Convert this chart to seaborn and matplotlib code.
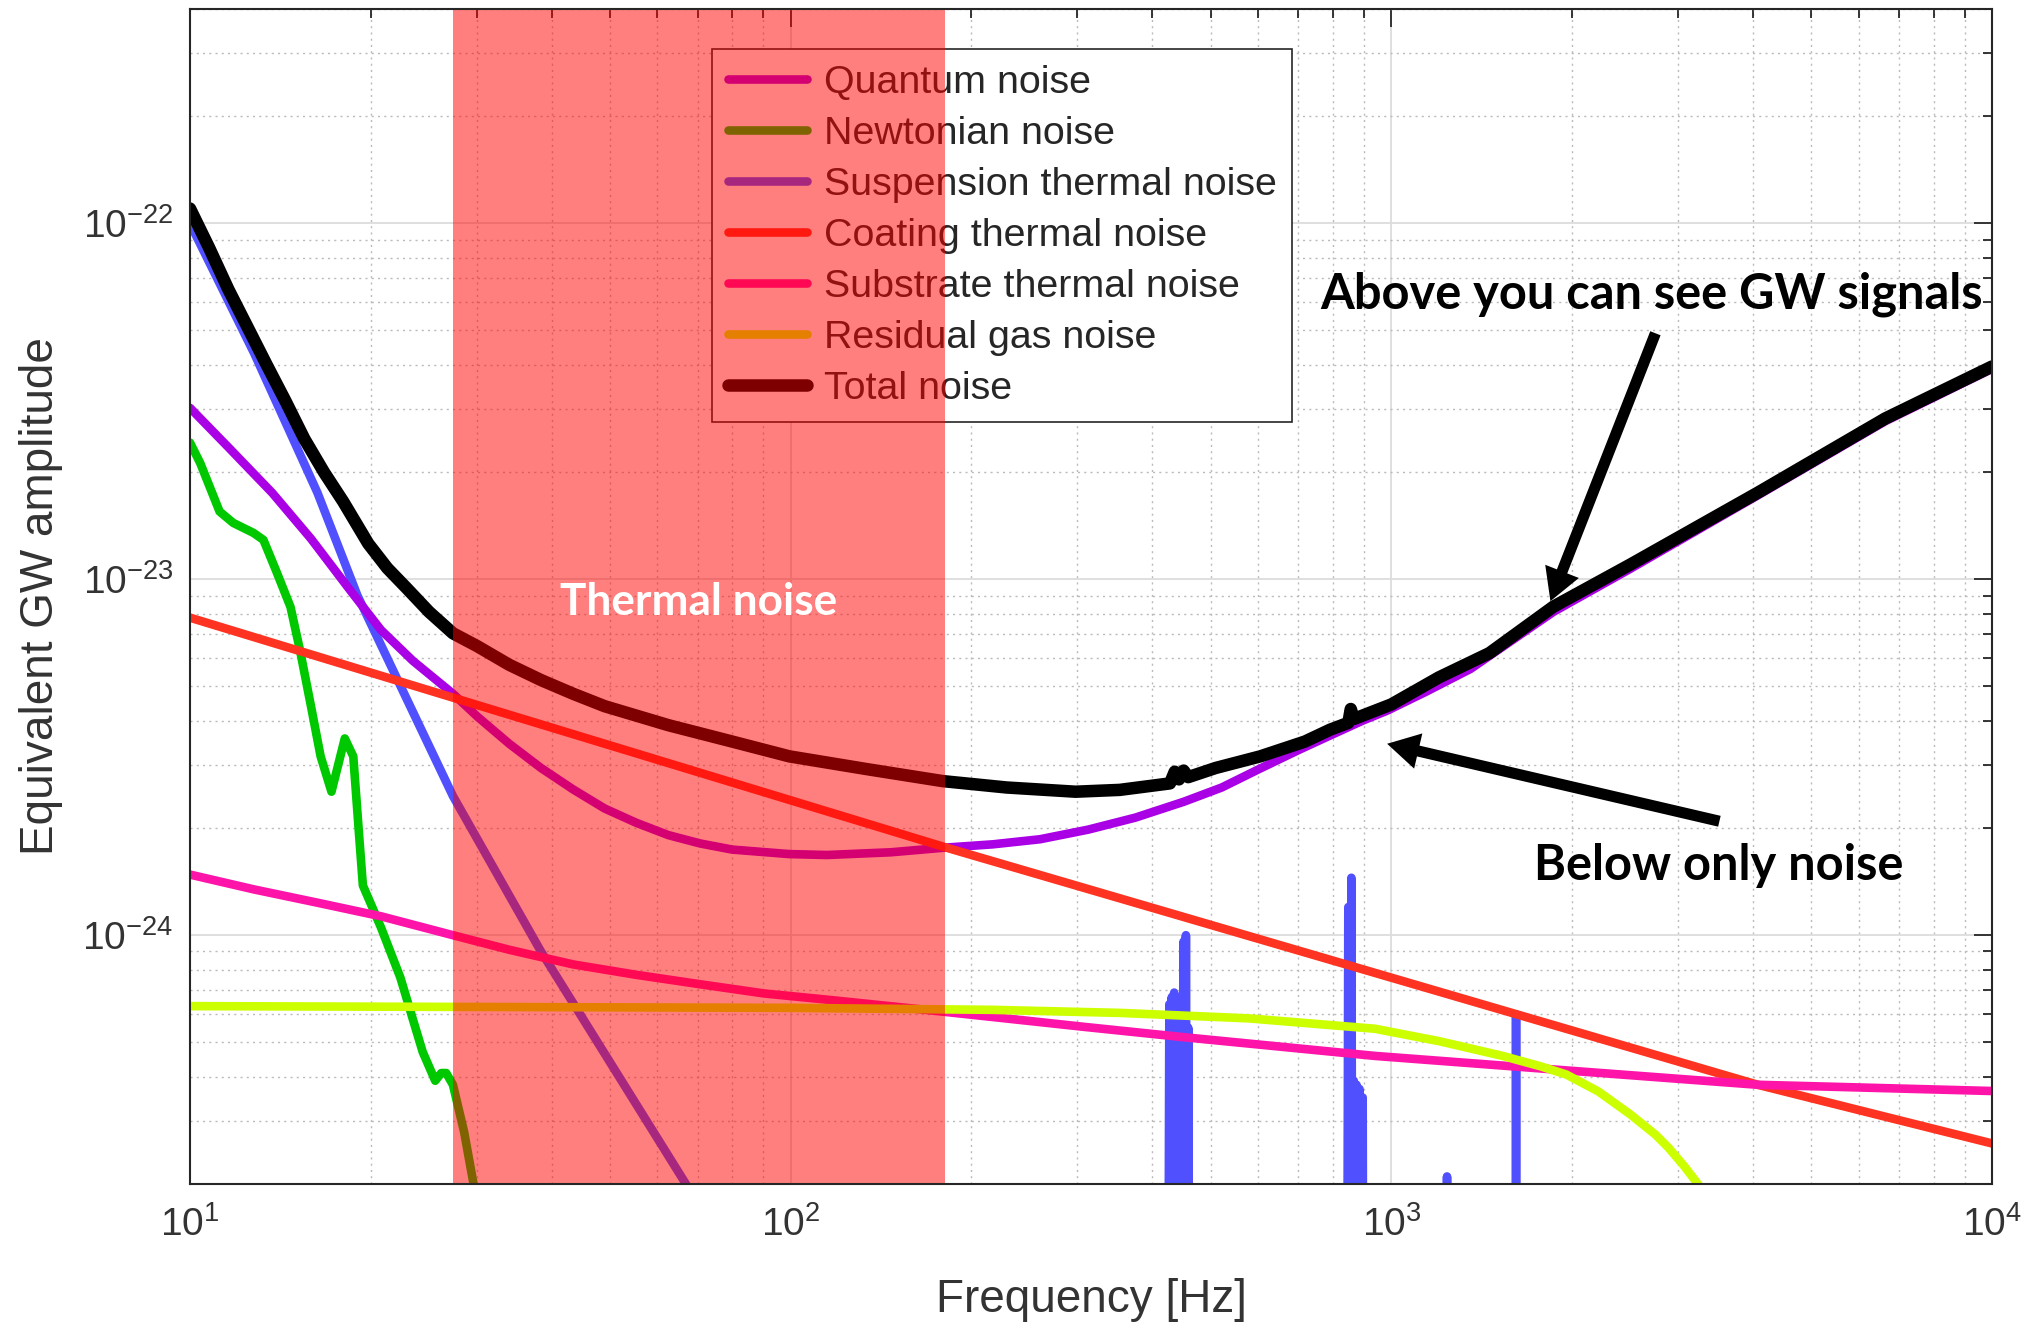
import matplotlib
matplotlib.use("Agg")
import matplotlib.pyplot as plt
import seaborn as sns
import pandas as pd
import numpy as np
from matplotlib.lines import Line2D
from matplotlib.ticker import FixedLocator, NullFormatter

# ---------------- data ----------------
freq_quantum = [10, 11.58, 13.7, 15.9, 18.4, 20.8, 23.5, 27.4, 30.1, 34.0, 38.4, 43.4, 49.0, 55.3, 62.6,
                70.7, 79.9, 99.5, 115, 147, 179, 217, 260, 313, 375, 451, 522, 605, 700, 791, 894, 986,
                1142, 1355, 1862, 2500, 4073, 6643, 10000]
amp_quantum = [3.03e-23, 2.35e-23, 1.75e-23, 1.30e-23, 9.4e-24, 7.2e-24, 5.9e-24, 4.77e-24, 4.11e-24,
               3.45e-24, 2.95e-24, 2.57e-24, 2.27e-24, 2.07e-24, 1.91e-24, 1.81e-24, 1.74e-24, 1.69e-24,
               1.68e-24, 1.71e-24, 1.76e-24, 1.80e-24, 1.86e-24, 1.98e-24, 2.14e-24, 2.37e-24, 2.60e-24,
               2.94e-24, 3.31e-24, 3.64e-24, 4.00e-24, 4.28e-24, 4.83e-24, 5.6e-24, 8.1e-24, 1.07e-23,
               1.72e-23, 2.78e-23, 3.9e-23]

freq_newtonian = [10, 10.4, 11.2, 11.8, 12.75, 13.25, 13.9, 14.7, 15.25, 15.9, 16.5, 17.2, 18.1,
                  18.7, 19.1, 19.4, 20.8, 22.4, 23.5, 24.4, 25.6, 26.2, 26.7, 27.4, 28.6, 29.7, 31.0]
amp_newtonian = [2.42e-23, 2.12e-23, 1.55e-23, 1.44e-23, 1.35e-23, 1.29e-23, 1.06e-23, 8.36e-24,
                 6.3e-24, 4.4e-24, 3.18e-24, 2.53e-24, 3.57e-24, 3.18e-24, 1.96e-24, 1.38e-24,
                 1.05e-24, 7.6e-25, 5.8e-25, 4.7e-25, 3.9e-25, 4.1e-25, 4.1e-25, 3.8e-25, 2.8e-25,
                 1.97e-25, 1.4e-25]

freq_suspension = [10, 12.8, 16.3, 19.0, 27.4, 38.4, 67.3, 80, 120, 300,
                   424, 427, 429, 431, 433, 435, 437, 439, 441, 443, 445, 447, 449, 451, 453, 455, 457, 459, 462,
                   600, 842, 848, 853, 858, 863, 866, 870, 875, 880, 885, 890, 896, 900,
                   1100, 1228, 1238, 1248, 1600, 1609, 1613, 1617, 1700, 10000]
amp_suspension = [1.0e-22, 4.3e-23, 1.75e-23, 9.0e-24, 2.46e-24, 9.0e-25, 1.97e-25, 1.3e-25, 4e-26, 1e-26,
                  1e-26, 6.4e-25, 1e-26, 6.7e-25, 1e-26, 6.9e-25, 1e-26, 6.6e-25, 1e-26, 6.2e-25, 1e-26, 6.0e-25, 1e-26,
                  9.6e-25, 1e-26, 1.0e-24, 1e-26, 5.5e-25, 1e-26,
                  1e-26, 1e-26, 1.2e-24, 1e-26, 1.45e-24, 1e-26, 3.9e-25, 1e-26, 3.8e-25, 1e-26, 3.7e-25, 1e-26, 3.5e-25, 1e-26,
                  1e-26, 1e-26, 2.1e-25, 1e-26, 1e-26, 1e-26, 6.0e-25, 1e-26, 1e-26, 1e-26]

freq_coating = [10, 180, 4074, 10000]
amp_coating = [7.8e-24, 1.77e-24, 3.8e-25, 2.6e-25]

freq_substrate = [10, 12.77, 16.3, 20.8, 27.4, 34.0, 43.4, 55.3, 70.7, 90.3, 115, 179, 307, 451, 939,
                  1956, 4073, 10000]
amp_substrate = [1.48e-24, 1.345e-24, 1.234e-24, 1.13e-24, 1.0e-24, 9.1e-25, 8.28e-25, 7.74e-25, 7.28e-25,
                 6.86e-25, 6.59e-25, 6.1e-25, 5.53e-25, 5.17e-25, 4.58e-25, 4.17e-25, 3.8e-25, 3.65e-25]

freq_gas = [10, 100, 217, 353, 578, 939, 1200, 1532, 1774, 1956, 2211, 2498, 2754, 2893, 3076, 3269, 3500]
amp_gas = [6.32e-25, 6.25e-25, 6.17e-25, 6.05e-25, 5.84e-25, 5.46e-25, 5.04e-25, 4.58e-25, 4.28e-25,
           4.06e-25, 3.64e-25, 3.14e-25, 2.75e-25, 2.53e-25, 2.24e-25, 1.96e-25, 1.7e-25]

freq_total = [10, 10.76, 11.58, 12.46, 13.4, 14.43, 15.5, 16.71, 18.0, 19.8, 21.3, 23.0, 25.0, 27.4,
              30.06, 34.0, 38.4, 43.4, 49.0, 62.6, 79.9, 99.5, 133.6, 179, 228.8, 298, 353, 428, 436,
              443, 451, 459, 510, 605, 718, 791, 848, 856, 866, 1000, 1200, 1456, 1862, 2500, 4073,
              6643, 10000]
amp_total = [1.10e-22, 8.54e-23, 6.53e-23, 5.12e-23, 4.02e-23, 3.16e-23, 2.48e-23, 2.0e-23, 1.65e-23,
             1.26e-23, 1.075e-23, 9.4e-24, 8.1e-24, 7.05e-24, 6.49e-24, 5.75e-24, 5.21e-24, 4.77e-24,
             4.40e-24, 3.89e-24, 3.50e-24, 3.18e-24, 2.93e-24, 2.71e-24, 2.60e-24, 2.53e-24, 2.56e-24,
             2.67e-24, 2.88e-24, 2.74e-24, 2.90e-24, 2.78e-24, 2.95e-24, 3.18e-24, 3.50e-24, 3.78e-24,
             3.95e-24, 4.32e-24, 4.05e-24, 4.45e-24, 5.3e-24, 6.2e-24, 8.38e-24, 1.10e-23, 1.75e-23,
             2.83e-23, 3.96e-23]

thermal_band = (27.4, 180.5)

legend_labels = ["Quantum noise", "Newtonian noise", "Suspension thermal noise", "Coating thermal noise",
                 "Substrate thermal noise", "Residual gas noise", "Total noise"]

# ---------------- style ----------------
sns.set_style("white")
plt.rcParams['font.family'] = ['Liberation Sans', 'DejaVu Sans']
plt.rcParams['mathtext.fontset'] = 'custom'
plt.rcParams['mathtext.rm'] = 'Liberation Sans'
plt.rcParams['mathtext.it'] = 'Liberation Sans:italic'
plt.rcParams['mathtext.bf'] = 'Liberation Sans:bold'
plt.rcParams['mathtext.default'] = 'regular'
plt.rcParams['axes.unicode_minus'] = False

fig = plt.figure(figsize=(20.41, 13.28), dpi=100)
ax = fig.add_axes([190 / 2041, 144 / 1328, 1802 / 2041, 1175 / 1328])
ax.set_xscale('log')
ax.set_yscale('log')

colors = {
    "Quantum noise": "#AA00E6",
    "Newtonian noise": "#00C800",
    "Suspension thermal noise": "#5050FF",
    "Coating thermal noise": "#FF3322",
    "Substrate thermal noise": "#FF14AA",
    "Residual gas noise": "#CCFF00",
    "Total noise": "#000000",
}
widths = {k: 6.2 for k in colors}
widths["Total noise"] = 9.0

series = [
    ("Suspension thermal noise", freq_suspension, amp_suspension, 2.0),
    ("Quantum noise", freq_quantum, amp_quantum, 2.1),
    ("Newtonian noise", freq_newtonian, amp_newtonian, 2.2),
    ("Coating thermal noise", freq_coating, amp_coating, 2.3),
    ("Substrate thermal noise", freq_substrate, amp_substrate, 2.4),
    ("Residual gas noise", freq_gas, amp_gas, 2.5),
    ("Total noise", freq_total, amp_total, 2.6),
]
for name, f, a, z in series:
    df = pd.DataFrame({"Frequency": f, "Amplitude": a})
    sns.lineplot(data=df, x="Frequency", y="Amplitude", ax=ax, color=colors[name],
                 linewidth=widths[name], estimator=None, sort=False, zorder=z,
                 solid_joinstyle='round', solid_capstyle='round', legend=False)

ax.set_xlim(10, 1e4)
ax.set_ylim(2e-25, 4e-22)

# ticks / grid
x_major = [1e1, 1e2, 1e3, 1e4]
y_major = [1e-24, 1e-23, 1e-22]
x_minor = [m * d for d in (1e1, 1e2, 1e3) for m in range(2, 10)]
y_minor = [m * d for d in (1e-25, 1e-24, 1e-23, 1e-22) for m in range(2, 10) if 2e-25 <= m * d <= 4e-22]
ax.xaxis.set_major_locator(FixedLocator(x_major))
ax.yaxis.set_major_locator(FixedLocator(y_major))
ax.xaxis.set_minor_locator(FixedLocator(x_minor))
ax.yaxis.set_minor_locator(FixedLocator(y_minor))
ax.xaxis.set_minor_formatter(NullFormatter())
ax.yaxis.set_minor_formatter(NullFormatter())
ax.set_xticklabels([r'$\mathdefault{10^{1}}$', r'$\mathdefault{10^{2}}$',
                    r'$\mathdefault{10^{3}}$', r'$\mathdefault{10^{4}}$'])
ax.set_yticklabels([r'$\mathdefault{10^{-24}}$', r'$\mathdefault{10^{-23}}$', r'$\mathdefault{10^{-22}}$'])

ax.grid(True, which='major', color='#DCDCDC', lw=1.3, ls='-')
ax.grid(True, which='minor', color='#BBBBBB', lw=1.0, ls=(0, (1.5, 3)))
ax.set_axisbelow(True)
ax.tick_params(which='both', direction='in', top=True, right=True, colors='#262626', width=1.3)
ax.tick_params(which='major', length=13)
ax.tick_params(which='minor', length=6.5)
ax.tick_params(axis='x', which='major', pad=16, labelsize=28, labelcolor='#333333')
ax.tick_params(axis='y', which='major', pad=12, labelsize=28, labelcolor='#333333')
for s in ax.spines.values():
    s.set_color('#262626')
    s.set_linewidth(1.5)
    s.set_zorder(6)

ax.set_xlabel("Frequency [Hz]", fontsize=33, color='#333333')
ax.set_ylabel("Equivalent GW amplitude", fontsize=33, color='#333333')
ax.xaxis.set_label_coords(0.5, -0.08)
ax.yaxis.set_label_coords(-0.0705, 0.5)

# legend
handles = [Line2D([0], [0], color=colors[l], lw=widths[l]) for l in legend_labels]
leg = ax.legend(handles, legend_labels, loc='upper left', bbox_to_anchor=(0.2897, 0.966),
                borderaxespad=0, fontsize=28.4, frameon=True, fancybox=False, framealpha=1,
                edgecolor='#262626', handlelength=2.0, handletextpad=0.43, borderpad=0.4,
                labelspacing=0.38)
leg.get_frame().set_linewidth(1.2)
leg.set_zorder(4)

# thermal noise band (drawn on top, translucent)
ax.axvspan(thermal_band[0], thermal_band[1], color='red', alpha=0.5, lw=0, zorder=5)

# annotations
bold_font = ['Lato', 'DejaVu Sans']
t1 = ax.text(0.2822, 0.4846, "Thermal noise", transform=ax.transAxes, ha='center', va='baseline',
             color='white', fontweight='bold', family=bold_font, fontsize=32, zorder=8)
t2 = ax.text(0.8113, 0.7447, "Above you can see GW signals", transform=ax.transAxes, ha='center',
             va='baseline', color='black', fontweight='bold', family=bold_font, fontsize=38, zorder=8)
t3 = ax.text(0.8485, 0.2587, "Below only noise", transform=ax.transAxes, ha='center',
             va='baseline', color='black', fontweight='bold', family=bold_font, fontsize=38, zorder=8)

fig.canvas.draw()
r = fig.canvas.get_renderer()
for t, target in [(t1, 277), (t2, 664), (t3, 370)]:
    w = t.get_window_extent(renderer=r).width
    t.set_fontsize(t.get_fontsize() * target / w)

arrow_kw = dict(width=8, headwidth=26, headlength=23, shrink=0, color='black', lw=0)
ax.annotate('', xy=(1840, 8.68e-24), xytext=(2752, 4.91e-23), arrowprops=arrow_kw, zorder=8)
ax.annotate('', xy=(984, 3.45e-24), xytext=(3517, 2.09e-24), arrowprops=arrow_kw, zorder=8)

fig.savefig("out.png", dpi=100, facecolor='white')
